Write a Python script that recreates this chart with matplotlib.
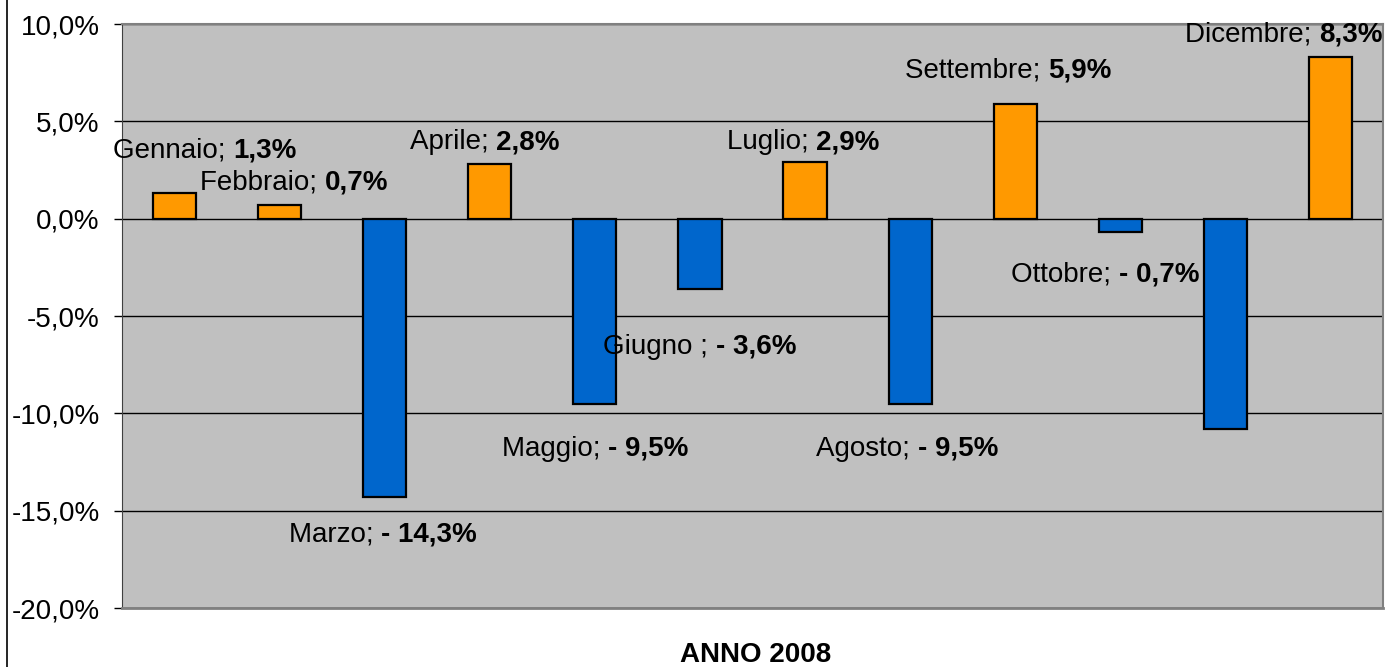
import matplotlib
matplotlib.use("Agg")
import matplotlib.pyplot as plt
from matplotlib.offsetbox import TextArea, HPacker, AnnotationBbox
from matplotlib.ticker import FuncFormatter, MultipleLocator
from matplotlib.lines import Line2D

plt.rcParams['font.family'] = ['Liberation Sans', 'DejaVu Sans']

months = ["Gennaio", "Febbraio", "Marzo", "Aprile", "Maggio", "Giugno ",
          "Luglio", "Agosto", "Settembre", "Ottobre", "Novembre", "Dicembre"]
values = [1.3, 0.7, -14.3, 2.8, -9.5, -3.6, 2.9, -9.5, 5.9, -0.7, -10.8, 8.3]
show_label = [True, True, True, True, True, True, True, True, True, True, False, True]
# label offsets in pixels (dx, dy) relative to bar end
label_offsets = [(30, 43), (15, 23), (-2, -37), (-5, 22), (0, -45), (0, -58),
                 (-2, 20), (-3, -45), (-7, 33), (-15, -42), (0, 0), (-47, 23)]
xlabel = "ANNO 2008"

W, H = 1386, 667
fig = plt.figure(figsize=(W / 100, H / 100), dpi=100)
fig.patch.set_facecolor("white")
ax = fig.add_axes([122 / W, 1 - 608 / H, (1383 - 122) / W, (608 - 24) / H])
ax.set_facecolor("#C0C0C0")

colors = ["#FF9900" if v >= 0 else "#0066CC" for v in values]
x = list(range(len(values)))
ax.bar(x, values, width=0.41, color=colors, edgecolor="black", linewidth=1.6, zorder=3)

ax.set_xlim(-0.5, len(values) - 0.5)
ax.set_ylim(-20, 10)
ax.yaxis.set_major_locator(MultipleLocator(5))
ax.yaxis.set_major_formatter(FuncFormatter(lambda v, p: f"{v:.1f}%".replace(".", ",")))
ax.set_xticks([])
ax.tick_params(axis="y", length=6, width=1, pad=10, labelsize=20, colors="black")
ax.grid(axis="y", color="black", linewidth=1, zorder=1)
ax.set_axisbelow(True)

for side in ["top", "right"]:
    ax.spines[side].set_color("#808080")
    ax.spines[side].set_linewidth(1.5)
ax.spines["left"].set_color("#404040")
ax.spines["bottom"].set_color("#808080")
ax.spines["bottom"].set_linewidth(2)

fs = 20
for i, (m, v) in enumerate(zip(months, values)):
    if not show_label[i]:
        continue
    val = f"{v:.1f}%".replace(".", ",")
    if v < 0:
        val = "- " + val[1:]
    t1 = TextArea(f"{m}; ", textprops=dict(fontsize=fs, color="black"))
    t2 = TextArea(val, textprops=dict(fontsize=fs, color="black", fontweight="bold"))
    box = HPacker(children=[t1, t2], align="baseline", pad=0, sep=0)
    dx, dy = label_offsets[i]
    ab = AnnotationBbox(box, (i, v), xybox=(dx * 0.72, dy * 0.72),
                        boxcoords="offset points", frameon=False,
                        box_alignment=(0.5, 0.5), zorder=5, annotation_clip=False)
    ax.add_artist(ab)

fig.text(756 / W, 1 - 655 / H, xlabel, ha="center", va="center",
         fontsize=20, fontweight="bold")

fig.add_artist(Line2D([7 / W, 7 / W], [0, 1], transform=fig.transFigure,
                      color="black", linewidth=1.2))

fig.savefig("out.png", dpi=100)
